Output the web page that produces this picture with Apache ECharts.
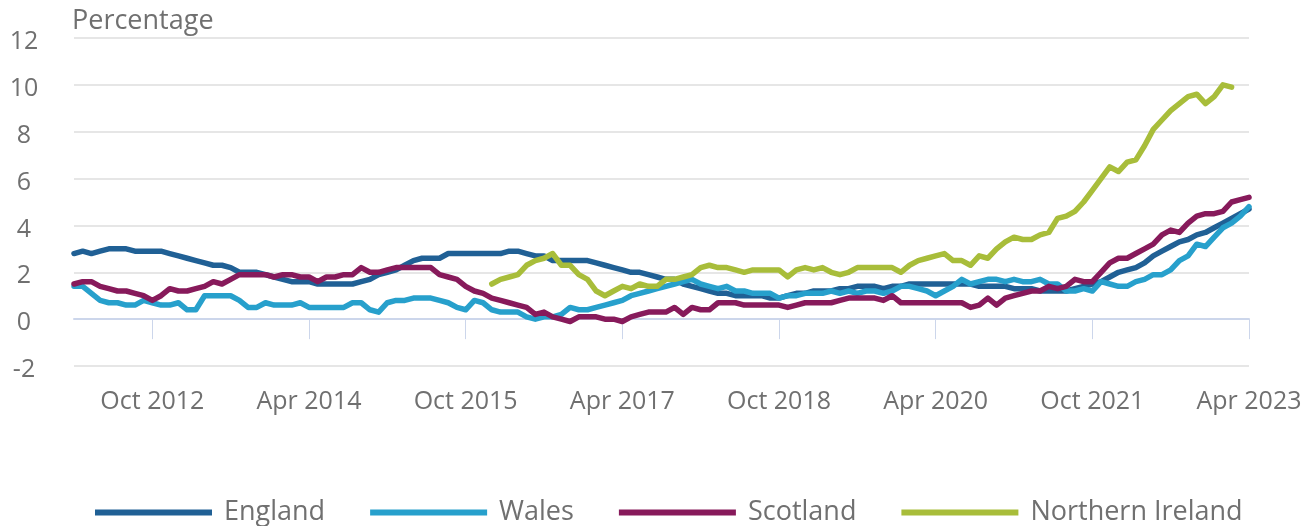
<!DOCTYPE html>
<html>
<head>
<meta charset="utf-8">
<script src="https://cdn.jsdelivr.net/npm/echarts@6/dist/echarts.min.js"></script>
<style>
html,body{margin:0;padding:0;background:#fff;}
#chart{width:1312px;height:526px;}
</style>
</head>
<body>
<div id="chart"></div>
<script>
// Monthly categories Jan 2012 .. Apr 2023
const monthNames = ["Jan","Feb","Mar","Apr","May","Jun","Jul","Aug","Sep","Oct","Nov","Dec"];
const categories = [];
for (let y = 2012; y <= 2023; y++) {
  for (let m = 0; m < 12; m++) {
    if (y === 2023 && m > 3) break;
    categories.push(monthNames[m] + " " + y);
  }
}
const yTicks = [-2, 0, 2, 4, 6, 8, 10, 12];
const yAxisTitle = "Percentage";

const england = [
  2.8,2.9,2.8,2.9,3.0,3.0,3.0,2.9,2.9,2.9,2.9,2.8,
  2.7,2.6,2.5,2.4,2.3,2.3,2.2,2.0,2.0,2.0,1.9,1.8,
  1.7,1.6,1.6,1.6,1.5,1.5,1.5,1.5,1.5,1.6,1.7,1.9,
  2.0,2.1,2.3,2.5,2.6,2.6,2.6,2.8,2.8,2.8,2.8,2.8,
  2.8,2.8,2.9,2.9,2.8,2.7,2.7,2.5,2.5,2.5,2.5,2.5,
  2.4,2.3,2.2,2.1,2.0,2.0,1.9,1.8,1.7,1.7,1.5,1.4,
  1.3,1.2,1.1,1.1,1.0,1.0,1.0,1.0,0.9,0.9,1.0,1.1,
  1.1,1.2,1.2,1.2,1.3,1.3,1.4,1.4,1.4,1.3,1.4,1.4,
  1.5,1.5,1.5,1.5,1.5,1.5,1.5,1.5,1.4,1.4,1.4,1.4,
  1.3,1.3,1.3,1.2,1.2,1.2,1.2,1.3,1.4,1.5,1.6,1.8,
  2.0,2.1,2.2,2.4,2.7,2.9,3.1,3.3,3.4,3.6,3.7,3.9,
  4.1,4.3,4.5,4.7
];
const wales = [
  1.4,1.4,1.1,0.8,0.7,0.7,0.6,0.6,0.8,0.7,0.6,0.6,
  0.7,0.4,0.4,1.0,1.0,1.0,1.0,0.8,0.5,0.5,0.7,0.6,
  0.6,0.6,0.7,0.5,0.5,0.5,0.5,0.5,0.7,0.7,0.4,0.3,
  0.7,0.8,0.8,0.9,0.9,0.9,0.8,0.7,0.5,0.4,0.8,0.7,
  0.4,0.3,0.3,0.3,0.1,0.0,0.1,0.1,0.2,0.5,0.4,0.4,
  0.5,0.6,0.7,0.8,1.0,1.1,1.2,1.3,1.4,1.5,1.6,1.7,
  1.5,1.4,1.3,1.4,1.2,1.2,1.1,1.1,1.1,0.9,1.0,1.0,
  1.1,1.1,1.1,1.2,1.1,1.2,1.1,1.2,1.2,1.1,1.2,1.4,
  1.4,1.3,1.2,1.0,1.2,1.4,1.7,1.5,1.6,1.7,1.7,1.6,
  1.7,1.6,1.6,1.7,1.5,1.5,1.2,1.2,1.3,1.2,1.6,1.5,
  1.4,1.4,1.6,1.7,1.9,1.9,2.1,2.5,2.7,3.2,3.1,3.5,
  3.9,4.1,4.4,4.8
];
const scotland = [
  1.5,1.6,1.6,1.4,1.3,1.2,1.2,1.1,1.0,0.8,1.0,1.3,
  1.2,1.2,1.3,1.4,1.6,1.5,1.7,1.9,1.9,1.9,1.9,1.8,
  1.9,1.9,1.8,1.8,1.6,1.8,1.8,1.9,1.9,2.2,2.0,2.0,
  2.1,2.2,2.2,2.2,2.2,2.2,1.9,1.8,1.7,1.4,1.2,1.1,
  0.9,0.8,0.7,0.6,0.5,0.2,0.3,0.1,0.0,-0.1,0.1,0.1,
  0.1,0.0,0.0,-0.1,0.1,0.2,0.3,0.3,0.3,0.5,0.2,0.5,
  0.4,0.4,0.7,0.7,0.7,0.6,0.6,0.6,0.6,0.6,0.5,0.6,
  0.7,0.7,0.7,0.7,0.8,0.9,0.9,0.9,0.9,0.8,1.0,0.7,
  0.7,0.7,0.7,0.7,0.7,0.7,0.7,0.5,0.6,0.9,0.6,0.9,
  1.0,1.1,1.2,1.2,1.4,1.3,1.4,1.7,1.6,1.6,2.0,2.4,
  2.6,2.6,2.8,3.0,3.2,3.6,3.8,3.7,4.1,4.4,4.5,4.5,
  4.6,5.0,5.1,5.2
];
const northernIreland = [
  null,null,null,null,null,null,null,null,null,null,null,null,
  null,null,null,null,null,null,null,null,null,null,null,null,
  null,null,null,null,null,null,null,null,null,null,null,null,
  null,null,null,null,null,null,null,null,null,null,null,null,
  1.5,1.7,1.8,1.9,2.3,2.5,2.6,2.8,2.3,2.3,1.9,1.7,
  1.2,1.0,1.2,1.4,1.3,1.5,1.4,1.4,1.7,1.7,1.8,1.9,
  2.2,2.3,2.2,2.2,2.1,2.0,2.1,2.1,2.1,2.1,1.8,2.1,
  2.2,2.1,2.2,2.0,1.9,2.0,2.2,2.2,2.2,2.2,2.2,2.0,
  2.3,2.5,2.6,2.7,2.8,2.5,2.5,2.3,2.7,2.6,3.0,3.3,
  3.5,3.4,3.4,3.6,3.7,4.3,4.4,4.6,5.0,5.5,6.0,6.5,
  6.3,6.7,6.8,7.4,8.1,8.5,8.9,9.2,9.5,9.6,9.2,9.5,
  10.0,9.9,null,null
];

const seriesDefs = [
  {name: "England", data: england, color: "#206095"},
  {name: "Wales", data: wales, color: "#27a0cc"},
  {name: "Scotland", data: scotland, color: "#871a5b"},
  {name: "Northern Ireland", data: northernIreland, color: "#a8bd3a"}
];

const textColor = "#707070";
const fontFamily = "'Open Sans', sans-serif";
const labelEvery = (idx) => (idx - 9) % 18 === 0 && idx >= 9;

const chart = echarts.init(document.getElementById("chart"), null, {renderer: "canvas"});
chart.setOption({
  animation: false,
  backgroundColor: "#ffffff",
  textStyle: {fontFamily: fontFamily},
  title: {
    text: yAxisTitle,
    left: 67, top: 3,
    textStyle: {color: textColor, fontSize: 27, fontWeight: "normal", fontFamily: fontFamily}
  },
  grid: {left: 74, right: 63, top: 38, bottom: 160, containLabel: false},
  legend: {
    left: 90, top: 494,
    icon: "rect",
    itemWidth: 117, itemHeight: 6,
    itemGap: 45,
    textStyle: {color: textColor, fontSize: 27, fontFamily: fontFamily, padding: [0, 0, 0, 7]},
    data: seriesDefs.map(s => s.name)
  },
  xAxis: {
    type: "category",
    data: categories,
    boundaryGap: false,
    axisLine: {lineStyle: {color: "#ccd6eb", width: 2}},
    axisTick: {show: true, interval: labelEvery, length: 20, lineStyle: {color: "#ccd6eb", width: 1}},
    axisLabel: {interval: labelEvery, color: textColor, fontSize: 25, margin: 23, fontFamily: fontFamily},
    splitLine: {show: false}
  },
  yAxis: {
    type: "value",
    min: yTicks[0], max: yTicks[yTicks.length - 1], interval: 2,
    axisLine: {show: false},
    axisTick: {show: false},
    axisLabel: {color: textColor, fontSize: 25, align: "center", verticalAlign: "top", lineHeight: 8, margin: 50, fontFamily: fontFamily},
    splitLine: {lineStyle: {color: "#e6e6e6", width: 2}}
  },
  series: seriesDefs.map(s => ({
    name: s.name,
    type: "line",
    data: s.data,
    showSymbol: false,
    symbol: "none",
    connectNulls: false,
    lineStyle: {color: s.color, width: 5.5, join: "round", cap: "round"},
    itemStyle: {color: s.color},
    emphasis: {disabled: true}
  }))
});
</script>
</body>
</html>
